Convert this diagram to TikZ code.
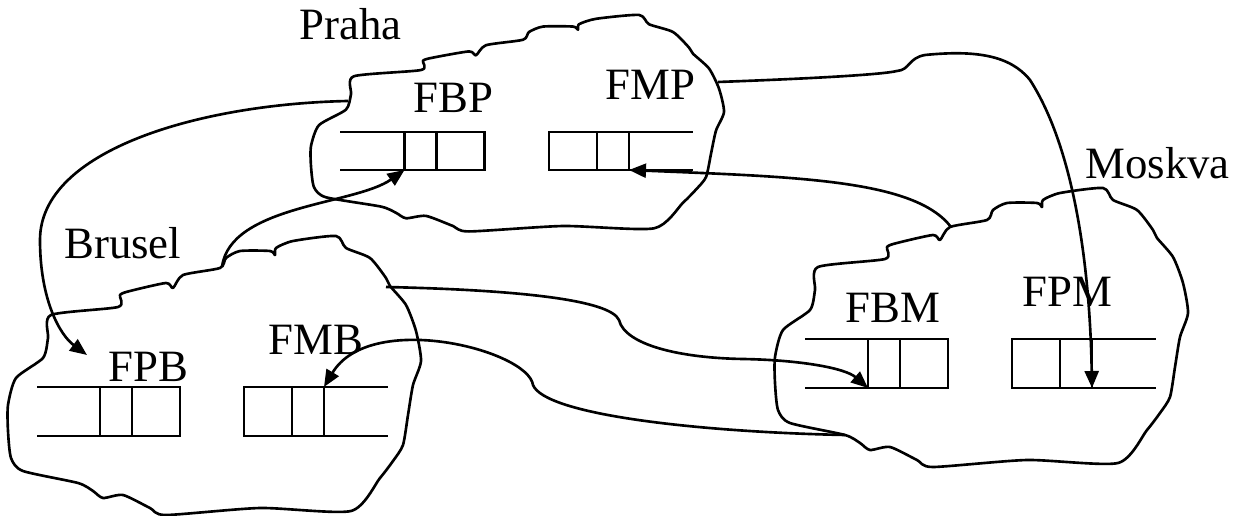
\documentclass[tikz,border=0pt]{standalone}
\usepackage{fontspec}
\setmainfont{Liberation Serif}
\usetikzlibrary{arrows.meta}

% region outline, given in the frame of the Brusel region (1 unit = 1px)
\newcommand{\regionoutline}{plot[smooth cycle, tension=0.4] coordinates {(51,315) (118,307) (120,295) (130,291) (166,283) (173,288) (183,275) (220,268) (226,258) (240,251) (270,251) (275,255) (276,248) (293,241) (336,236) (346,248) (370,258) (386,278) (390,286) (406,305) (416,331) (421,361) (413,385) (408,415) (403,445) (393,461) (380,478) (351,511) (260,508) (166,515) (150,508) (123,495) (103,498) (93,491) (78,483) (23,471) (11,458) (8,431) (8,405) (16,378) (43,358) (48,338)}}

\begin{document}
\begin{tikzpicture}[x=0.02cm, y=-0.02cm, border/.style={line width=1.5pt, line join=round},slot/.style={draw, line width=1.5pt, inner sep=0pt, outer sep=0pt, minimum height=0.98cm},narrow/.style={slot, minimum width=0.64cm},wide/.style={slot, minimum width=0.96cm},lbl/.style={font=\fontsize{25.5}{30}\selectfont, anchor=base west, inner sep=0pt},link/.style={line width=1.5pt, -{Triangle[length=0.34cm, width=0.28cm]}}]
\useasboundingbox (0,0) rectangle (1251,516);
% the three regions
\draw[border] \regionoutline;
\begin{scope}[shift={(767,-48)}] \draw[border] \regionoutline; \end{scope}
\begin{scope}[shift={(303,-168.2)}, yscale=0.776] \draw[border] \regionoutline; \end{scope}
\node[lbl] (praha) at (299,40) {Praha}; \node[lbl] (brusel) at (64,259) {Brusel}; \node[lbl] (moskva) at (1085,179) {Moskva};
% queues in Praha
\node[narrow, minimum height=0.76cm] (fbp1) at (420.5,151) {}; \node[wide, minimum height=0.76cm] (fbp2) at (460.5,151) {};
\draw[border] (fbp1.north west) -- ++(-65,0) (fbp1.south west) -- ++(-65,0);
\node[wide, minimum height=0.76cm] (fmp1) at (573,151) {}; \node[narrow, minimum height=0.76cm] (fmp2) at (613,151) {};
\draw[border] (fmp2.north east) -- ++(64,0) (fmp2.south east) -- ++(64,0);
\node[lbl] (fbplbl) at (413,113) {FBP}; \node[lbl] (fmplbl) at (605,100) {FMP};
% queues in Brusel
\node[narrow] (fpb1) at (116,411.5) {}; \node[wide] (fpb2) at (156,411.5) {};
\draw[border] (fpb1.north west) -- ++(-63,0) (fpb1.south west) -- ++(-63,0);
\node[wide] (fmb1) at (268,411.5) {}; \node[narrow] (fmb2) at (308,411.5) {};
\draw[border] (fmb2.north east) -- ++(64,0) (fmb2.south east) -- ++(64,0);
\node[lbl] (fpblbl) at (108,382) {FPB}; \node[lbl] (fmblbl) at (268,355) {FMB};
% queues in Moskva
\node[narrow] (fbm1) at (884,363.5) {}; \node[wide] (fbm2) at (924,363.5) {};
\draw[border] (fbm1.north west) -- ++(-63,0) (fbm1.south west) -- ++(-63,0);
\node[wide] (fpm1) at (1036,363.5) {}; \node[narrow] (fpm2) at (1076,363.5) {};
\draw[border] (fpm2.north east) -- ++(64,0) (fpm2.south east) -- ++(64,0);
\node[lbl] (fbmlbl) at (845,323) {FBM}; \node[lbl] (fpmlbl) at (1022,307) {FPM};
% links between the regions
\coordinate (prahaW) at (348,101); \coordinate (prahaE) at (718,82);
\coordinate (bruselN) at (222,267); \coordinate (bruselE) at (386,287);
\coordinate (moskvaN) at (951,227); \coordinate (moskvaSW) at (845,435);
\coordinate (fpbin) at (87,355);
\draw[link] (prahaW) .. controls (200,104) and (40,150) .. (40,240) .. controls (40,300) and (60,335) .. (fpbin);
\draw[link] (bruselN) .. controls (230,205) and (355,205) .. (fbp1.south west);
\draw[link] (moskvaN) .. controls (915,180) and (800,177) .. (fmp2.south east);
\draw[link] (prahaE) .. controls (800,79) and (880,75) .. (897,71) .. controls (910,70) and (908,58) .. (925,55) .. controls (975,50) and (1010,55) .. (1030,80) .. controls (1075,150) and (1090,270) .. (fpm2.south east);
\draw[link] (bruselE) .. controls (520,290) and (610,300) .. (619,320) .. controls (625,345) and (680,358) .. (743,359) .. controls (800,360) and (845,368) .. (fbm1.south west);
\draw[link] (moskvaSW) .. controls (700,432) and (545,415) .. (533,385) .. controls (528,350) and (370,310) .. (fmb2.north east);
\end{tikzpicture}
\end{document}
